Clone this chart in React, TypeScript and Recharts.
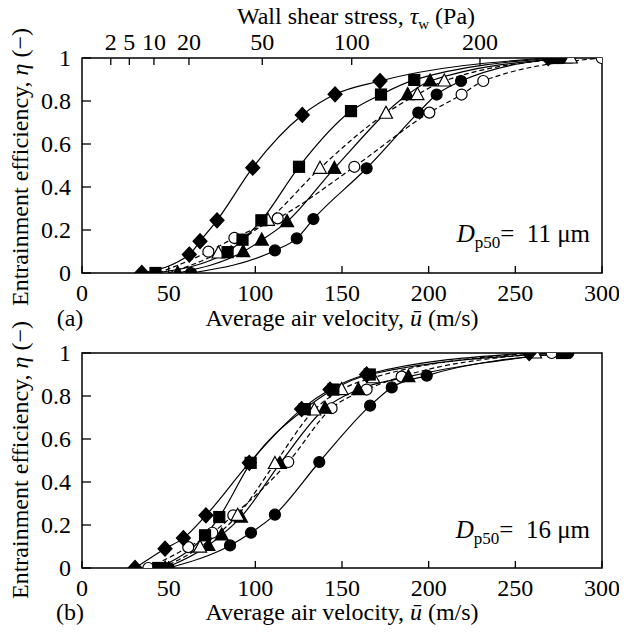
import { ComposedChart, Line, XAxis, YAxis, ReferenceArea } from 'recharts'

// readings, [u (m/s), eta (-)]
const diamondA = [[34.5, 0], [61.9, 0.086], [68.1, 0.148], [77.9, 0.245], [98.5, 0.49], [127.1, 0.735], [146, 0.831], [171.9, 0.893], [269, 1.0]]
const squareA = [[42.4, 0], [84, 0.097], [92.6, 0.155], [103.5, 0.245], [125.2, 0.494], [155.2, 0.753], [172.5, 0.83], [191.7, 0.898], [273.5, 1.0]]
const triFullA = [[55.2, 0], [93, 0.099], [103.7, 0.153], [118.3, 0.239], [145.6, 0.487], [187.9, 0.83], [200.8, 0.893], [279, 1.0]]
const triOpenA = [[78.7, 0.093], [107.3, 0.245], [137.3, 0.487], [175.4, 0.743], [193.5, 0.83], [209, 0.893], [282, 1.0]]
const circOpenA = [[72.9, 0.099], [87.9, 0.163], [112.9, 0.254], [157.1, 0.494], [200.4, 0.746], [219, 0.83], [231.5, 0.893], [299.8, 1.0]]
const circFullA = [[62.9, 0], [111.3, 0.105], [123.9, 0.161], [133.5, 0.251], [164.2, 0.487], [194, 0.746], [204.6, 0.83], [218.7, 0.893], [277, 1.0]]
// where the dashed fits leave the axis (no marker there)
const triOpenStartA = [50, 0]
const circOpenStartA = [44, 0]

const diamondB = [[30.6, 0], [47.9, 0.09], [58.5, 0.139], [71.5, 0.245], [96.5, 0.489], [126.7, 0.739], [143.1, 0.83], [164.2, 0.9], [258, 1.0]]
const squareB = [[44, 0], [71, 0.152], [79.2, 0.237], [97.3, 0.489], [128.5, 0.739], [145, 0.83], [166, 0.9], [277, 1.0]]
const triFullB = [[48, 0], [72.9, 0.105], [80.6, 0.154], [91.7, 0.237], [114.2, 0.486], [140.2, 0.743], [159.4, 0.83], [188.3, 0.89], [278, 1.0]]
const triOpenB = [[68.1, 0.097], [89.8, 0.245], [111.3, 0.486], [134, 0.735], [149.8, 0.83], [168, 0.885], [261.4, 1.0]]
const circOpenB = [[38.3, 0], [61.3, 0.097], [75.2, 0.164], [87.3, 0.245], [119, 0.493], [144, 0.743], [164.2, 0.83], [184.4, 0.89], [271, 1.0]]
const circFullB = [[50, 0], [85.4, 0.105], [97.5, 0.164], [111.3, 0.248], [136.9, 0.493], [166.2, 0.755], [178.7, 0.84], [198.9, 0.895], [280.6, 1.0]]
const triOpenStartB = [46, 0]

const uTicks = [0, 50, 100, 150, 200, 250, 300]
const etaTicks = [0, 0.2, 0.4, 0.6, 0.8, 1]
const etaLabels = ['0', '0.2', '0.4', '0.6', '0.8', '1']
// wall shear stress ticks and the velocity they sit at on the top axis
const tauLabels = ['2', '5', '10', '20', '50', '100', '200']
const tauTickU = [16.6, 27.3, 41.5, 61.7, 104, 155.6, 229.6]

const FONT = '"Liberation Serif", "Times New Roman", serif'
const FS = 24

type Kind = 'diamond' | 'square' | 'triangle' | 'circle'
type Series = { name: string; pts: number[][]; start?: number[]; kind: Kind; open: boolean; dashed: boolean }

const toRows = (pts: number[][]) => pts.map(([u, eta]) => ({ u, eta }))

const seriesA: Series[] = [
  { name: 'circFull', pts: circFullA, kind: 'circle', open: false, dashed: false },
  { name: 'circOpen', pts: circOpenA, start: circOpenStartA, kind: 'circle', open: true, dashed: true },
  { name: 'triFull', pts: triFullA, kind: 'triangle', open: false, dashed: false },
  { name: 'triOpen', pts: triOpenA, start: triOpenStartA, kind: 'triangle', open: true, dashed: true },
  { name: 'square', pts: squareA, kind: 'square', open: false, dashed: false },
  { name: 'diamond', pts: diamondA, kind: 'diamond', open: false, dashed: false },
]
const seriesB: Series[] = [
  { name: 'circFull', pts: circFullB, kind: 'circle', open: false, dashed: false },
  { name: 'circOpen', pts: circOpenB, kind: 'circle', open: true, dashed: true },
  { name: 'triFull', pts: triFullB, kind: 'triangle', open: false, dashed: false },
  { name: 'triOpen', pts: triOpenB, start: triOpenStartB, kind: 'triangle', open: true, dashed: true },
  { name: 'square', pts: squareB, kind: 'square', open: false, dashed: false },
  { name: 'diamond', pts: diamondB, kind: 'diamond', open: false, dashed: false },
]

function marker(kind: Kind, open: boolean) {
  return (p: any) => {
    const { cx, cy, index } = p
    const fill = open ? '#fff' : '#000'
    const st = { fill, stroke: '#000', strokeWidth: 1.2 }
    if (cx == null || cy == null) return <g key={index} />
    if (kind === 'diamond') return <polygon key={index} points={`${cx},${cy - 7.5} ${cx + 7},${cy} ${cx},${cy + 7.5} ${cx - 7},${cy}`} {...st} />
    if (kind === 'square') return <rect key={index} x={cx - 5.5} y={cy - 5.5} width={11} height={11} {...st} />
    if (kind === 'triangle') return <polygon key={index} points={`${cx},${cy - 7} ${cx + 6.5},${cy + 5} ${cx - 6.5},${cy + 5}`} {...st} />
    return <circle key={index} cx={cx} cy={cy} r={5.5} {...st} />
  }
}

function BottomTick({ x, y, payload }: any) {
  return (
    <g>
      <line x1={x} x2={x} y1={y} y2={y - 7} stroke="#000" strokeWidth={1.3} />
      <text x={x} y={y + 28} textAnchor="middle" fontFamily={FONT} fontSize={FS}>{payload.value}</text>
    </g>
  )
}

function LeftTick({ x, y, index }: any) {
  return (
    <g>
      <line x1={x} x2={x + 9} y1={y} y2={y} stroke="#000" strokeWidth={1.3} />
      <text x={x - 11} y={y + 8} textAnchor="end" fontFamily={FONT} fontSize={FS}>{etaLabels[index]}</text>
    </g>
  )
}

function TopTick({ x, y, index }: any) {
  return (
    <g>
      <line x1={x} x2={x} y1={y} y2={y + 7} stroke="#000" strokeWidth={1.3} />
      <text x={x} y={y - 8} textAnchor="middle" fontFamily={FONT} fontSize={FS}>{tauLabels[index]}</text>
    </g>
  )
}

function Panel({ series, height, top, withTau }: { series: Series[]; height: number; top: number; withTau: boolean }) {
  // markers of panel (a) go through the top axis (same 0-300 domain) so that axis is in use
  const mAxis = withTau ? 'top' : 0
  return (
    <ComposedChart width={611} height={height} margin={{ top, right: 17, bottom: height - top - (withTau ? 30 : 0) - 215 - 30, left: 14 }}>
      <XAxis dataKey="u" type="number" domain={[0, 300]} ticks={uTicks} interval={0} axisLine={false}
        tickLine={false} tickSize={0} tickMargin={0} height={30} tick={<BottomTick />} allowDataOverflow />
      {withTau && (
        <XAxis xAxisId="top" dataKey="u" orientation="top" type="number" domain={[0, 300]} ticks={tauTickU} interval={0}
          axisLine={false} tickLine={false} tickSize={0} tickMargin={0} height={30} tick={<TopTick />} allowDataOverflow />
      )}
      <YAxis type="number" domain={[0, 1]} ticks={etaTicks} interval={0} axisLine={false} tickLine={false}
        tickSize={0} tickMargin={0} width={60} tick={<LeftTick />} allowDataOverflow />
      <ReferenceArea x1={0} x2={300} y1={0} y2={1} fill="none" stroke="#000" strokeWidth={1.5} ifOverflow="visible" />
      {series.map(s => (
        <Line key={'c' + s.name} data={toRows(s.start ? [s.start, ...s.pts] : s.pts)} dataKey="eta" type="monotone"
          stroke="#000" strokeWidth={1.2} strokeDasharray={s.dashed ? '5 3' : undefined} dot={false}
          activeDot={false} legendType="none" isAnimationActive={false} />
      ))}
      {series.map(s => (
        <Line key={'m' + s.name} xAxisId={mAxis} data={toRows(s.pts)} dataKey="eta" stroke="none" dot={marker(s.kind, s.open)}
          activeDot={false} legendType="none" isAnimationActive={false} />
      ))}
    </ComposedChart>
  )
}

const txt = { fontFamily: FONT, fontSize: FS }

function YTitle({ cx, cy }: { cx: number; cy: number }) {
  return (
    <text transform={`translate(${cx},${cy}) rotate(-90)`} y={8} textAnchor="middle" {...txt}>
      Entrainment efficiency, <tspan fontStyle="italic">η</tspan> (−)
    </text>
  )
}

function XTitle({ y, tag }: { y: number; tag: string }) {
  return (
    <g>
      <text x={62} y={y} textAnchor="middle" {...txt}>{tag}</text>
      <text x={334} y={y} textAnchor="middle" {...txt}>
        Average air velocity, <tspan fontStyle="italic">ū</tspan> (m/s)
      </text>
    </g>
  )
}

function DLabel({ y, size }: { y: number; size: string }) {
  return (
    <text x={582} y={y} textAnchor="end" {...txt} fontSize={25}>
      <tspan fontStyle="italic">D</tspan>
      <tspan fontSize={17} dy={6}>p50</tspan>
      <tspan dy={-6}>{'=\u00a0\u00a0' + size + '\u00a0μm'}</tspan>
    </text>
  )
}

export default function App() {
  return (
    <div style={{ position: 'relative', width: 611, height: 619 }}>
      <div style={{ position: 'absolute', left: 0, top: 0 }}>
        <Panel series={seriesA} height={322} top={20} withTau />
      </div>
      <div style={{ position: 'absolute', left: 0, top: 322 }}>
        <Panel series={seriesB} height={297} top={23} withTau={false} />
      </div>
      <svg width={611} height={619} style={{ position: 'absolute', left: 0, top: 0, pointerEvents: 'none', overflow: 'visible' }}>
        <text x={348} y={16} textAnchor="middle" {...txt}>
          Wall shear stress, <tspan fontStyle="italic">τ</tspan><tspan fontSize={15} dy={5}>w</tspan><tspan dy={-5}> (Pa)</tspan>
        </text>
        <YTitle cx={12} cy={159} />
        <YTitle cx={12} cy={452} />
        <XTitle y={318} tag="(a)" />
        <XTitle y={612} tag="(b)" />
        <DLabel y={234} size="11" />
        <DLabel y={530} size="16" />
      </svg>
    </div>
  )
}
